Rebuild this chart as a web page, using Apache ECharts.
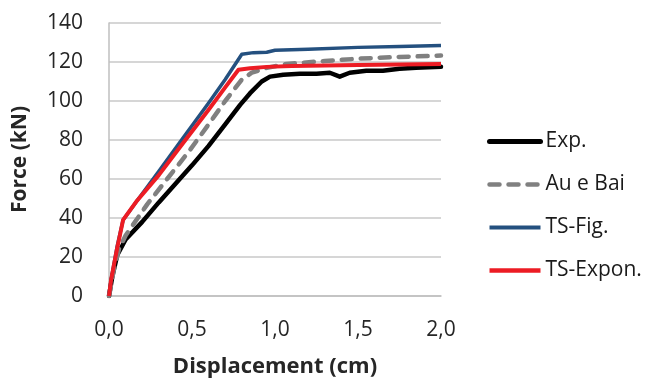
<!DOCTYPE html>
<html>
<head>
<meta charset="utf-8">
<script src="https://cdn.jsdelivr.net/npm/echarts@6/dist/echarts.min.js"></script>
<style>
html,body{margin:0;padding:0;background:#fff;}
#c{width:649px;height:383px;}
</style>
</head>
<body>
<div id="c"></div>
<script>
var seriesNames = ['Exp.', 'Au e Bai', 'TS-Fig.', 'TS-Expon.'];

var expX = [0, 0.02, 0.05, 0.1, 0.2, 0.3, 0.41, 0.5, 0.6, 0.7, 0.79, 0.85, 0.92, 0.97, 1.05, 1.15, 1.25, 1.33, 1.39, 1.45, 1.55, 1.65, 1.75, 1.85, 2.0];
var expY = [0, 10, 21, 29, 38, 48, 58.5, 67, 77, 88, 98, 104, 110, 112.5, 113.5, 114, 114, 114.5, 112.5, 114.5, 115.5, 115.5, 116.5, 117, 117.5];

var auX = [0, 0.03, 0.06, 0.1, 0.23, 0.35, 0.48, 0.6, 0.7, 0.8, 0.86, 0.95, 1.07, 1.3, 1.5, 1.75, 2.0];
var auY = [0, 14, 24, 31, 47, 60, 74, 88, 100, 111, 114.5, 117, 119, 120.5, 121.7, 122.6, 123.3];

var figX = [0, 0.012, 0.048, 0.085, 0.17, 0.3, 0.45, 0.6, 0.7, 0.8, 0.87, 0.95, 1.0, 1.2, 1.5, 1.75, 2.0];
var figY = [0, 8, 25, 39, 49, 64, 81.5, 99, 111, 124, 124.8, 125, 126, 126.5, 127.5, 127.9, 128.5];

var exponX = [0, 0.012, 0.048, 0.085, 0.17, 0.3, 0.42, 0.6, 0.7, 0.78, 0.85, 0.95, 1.1, 1.5, 2.0];
var exponY = [0, 8, 24, 39, 49, 62, 75.5, 95.5, 107, 116, 116.8, 117.5, 118, 118.5, 119];

var xTicks = [0, 0.5, 1.0, 1.5, 2.0];
var yTicks = [0, 20, 40, 60, 80, 100, 120, 140];

function pairs(xs, ys) { return xs.map(function (x, i) { return [x, ys[i]]; }); }

var chart = echarts.init(document.getElementById('c'), null, {renderer: 'canvas'});
var font = '"Open Sans", "DejaVu Sans", sans-serif';
var legendWidths = [5, 4.5, 4, 4.5];
chart.setOption({
  animation: false,
  backgroundColor: '#ffffff',
  textStyle: {fontFamily: font},
  grid: {left: 109, right: 208, top: 23, bottom: 85, containLabel: false},
  legend: {
    orient: 'vertical',
    left: 487,
    top: 131,
    padding: 0,
    itemWidth: 51,
    itemHeight: 14,
    itemGap: 22,
    itemStyle: {opacity: 0},
    textStyle: {fontSize: 21, color: '#1a1a1a', fontFamily: font},
    data: seriesNames.map(function (n, i) {
      return {name: n, itemStyle: {opacity: 0}, lineStyle: {width: legendWidths[i]}};
    })
  },
  xAxis: {
    type: 'value',
    min: xTicks[0],
    max: xTicks[xTicks.length - 1],
    interval: 0.5,
    name: 'Displacement (cm)',
    nameLocation: 'middle',
    nameGap: 60,
    nameTextStyle: {fontSize: 22, fontWeight: 'bold', color: '#262626', fontFamily: font},
    axisLine: {show: true, lineStyle: {color: '#bfbfbf', width: 1.5}},
    axisTick: {show: false},
    splitLine: {show: false},
    axisLabel: {fontSize: 21, color: '#262626', margin: 24, fontFamily: font,
      formatter: function (v) { return v.toFixed(1).replace('.', ','); }}
  },
  yAxis: {
    type: 'value',
    min: yTicks[0],
    max: yTicks[yTicks.length - 1],
    interval: 20,
    name: 'Force (kN)',
    nameLocation: 'middle',
    nameGap: 78,
    nameTextStyle: {fontSize: 21, fontWeight: 'bold', color: '#262626', fontFamily: font},
    axisLine: {show: true, lineStyle: {color: '#bfbfbf', width: 1.5}},
    axisTick: {show: false},
    splitLine: {show: true, lineStyle: {color: '#c8c8c8', width: 1.5}},
    axisLabel: {fontSize: 21, color: '#262626', margin: 26, fontFamily: font}
  },
  series: [
    {name: seriesNames[0], type: 'line', symbol: 'none', showSymbol: false,
      data: pairs(expX, expY),
      lineStyle: {color: '#000000', width: 4.5, cap: 'round', join: 'round'},
      itemStyle: {color: '#000000'}},
    {name: seriesNames[1], type: 'line', symbol: 'none', showSymbol: false,
      data: pairs(auX, auY),
      lineStyle: {color: '#808080', width: 4.5, type: [10, 9], cap: 'round', join: 'round'},
      itemStyle: {color: '#808080'}},
    {name: seriesNames[2], type: 'line', symbol: 'none', showSymbol: false,
      data: pairs(figX, figY),
      lineStyle: {color: '#24507f', width: 3.5, join: 'round'},
      itemStyle: {color: '#24507f'}},
    {name: seriesNames[3], type: 'line', symbol: 'none', showSymbol: false,
      data: pairs(exponX, exponY),
      lineStyle: {color: '#ec1c24', width: 4, join: 'round'},
      itemStyle: {color: '#ec1c24'}}
  ]
});
</script>
</body>
</html>
